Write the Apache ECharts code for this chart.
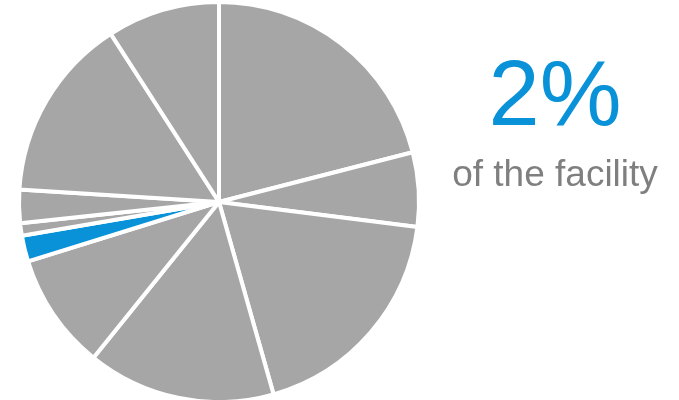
<!DOCTYPE html>
<html>
<head>
<meta charset="utf-8">
<script src="https://cdn.jsdelivr.net/npm/echarts@6/dist/echarts.min.js"></script>
<style>
  html, body { margin: 0; padding: 0; background: #fff; }
  #chart { width: 679px; height: 400px; }
</style>
</head>
<body>
<div id="chart"></div>
<script>
// slice shares (percent), clockwise from 12 o'clock
const sliceNames = ['A', 'B', 'C', 'D', 'E', 'Facility', 'F', 'G', 'H', 'I'];
const sliceValues = [21, 6, 18.6, 15.2, 9.4, 2.1, 1.0, 2.7, 14.9, 9.1];
const highlightName = 'Facility';
const bigLabel = '2%';
const subLabel = 'of the facility';

const grey = '#a6a6a6';
const blue = '#0a92d8';

const chart = echarts.init(document.getElementById('chart'));
chart.setOption({
  animation: false,
  series: [{
    type: 'pie',
    center: [219, 202],
    radius: 200,
    startAngle: 90,
    clockwise: true,
    label: { show: false },
    labelLine: { show: false },
    emphasis: { disabled: true },
    itemStyle: { borderColor: '#fff', borderWidth: 4 },
    data: sliceNames.map((n, i) => ({
      name: n,
      value: sliceValues[i],
      itemStyle: { color: n === highlightName ? blue : grey }
    }))
  }],
  graphic: [
    {
      type: 'text',
      style: {
        text: bigLabel,
        x: 555,
        y: 100,
        fill: blue,
        font: '92px "Liberation Sans", Arial, sans-serif',
        textAlign: 'center',
        textVerticalAlign: 'middle'
      }
    },
    {
      type: 'text',
      style: {
        text: subLabel,
        x: 555,
        y: 176,
        fill: '#7f7f7f',
        font: '37px "Liberation Sans", Arial, sans-serif',
        textAlign: 'center',
        textVerticalAlign: 'middle'
      }
    }
  ]
});
</script>
</body>
</html>
